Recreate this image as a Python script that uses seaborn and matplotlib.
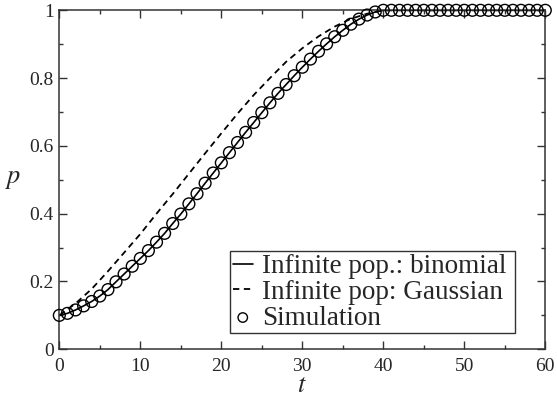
import numpy as np
import pandas as pd
import matplotlib
matplotlib.use("Agg")
import matplotlib.pyplot as plt
import seaborn as sns

# ---- data ----
t_sim = list(range(0, 61))
p_binomial = [0.100, 0.106, 0.116, 0.128, 0.141, 0.157, 0.176, 0.199, 0.222, 0.245,
              0.268, 0.291, 0.316, 0.342, 0.371, 0.399, 0.429, 0.459, 0.490, 0.520,
              0.550, 0.580, 0.610, 0.640, 0.669, 0.698, 0.727, 0.755, 0.781, 0.807,
              0.832, 0.856, 0.879, 0.901, 0.922, 0.941, 0.959, 0.974, 0.986, 0.995,
              1.000] + [1.000] * 20
p_simulation = list(p_binomial)

t_gauss = [0, 2, 4, 6, 8, 10, 12, 14, 16, 18, 20, 22, 24, 26, 28, 30, 32, 34, 36, 38, 40, 60]
p_gauss = [0.100, 0.135, 0.178, 0.230, 0.285, 0.340, 0.400, 0.458, 0.518, 0.578,
           0.637, 0.695, 0.750, 0.800, 0.848, 0.888, 0.923, 0.952, 0.975, 0.990,
           1.000, 1.000]

xticks = [0, 10, 20, 30, 40, 50, 60]
yticks = [0, 0.2, 0.4, 0.6, 0.8, 1.0]
yticklabels = ["0", "0.2", "0.4", "0.6", "0.8", "1"]

sns.set_style("ticks")
plt.rcParams['font.family'] = ['Liberation Serif', 'DejaVu Serif']
plt.rcParams['mathtext.fontset'] = 'stix'

fig = plt.figure(figsize=(5.57, 3.96), dpi=100)
ax = fig.add_axes([0.1065, 0.118, 0.8725, 0.856])

df_bin = pd.DataFrame({"t": t_sim, "p": p_binomial})
df_gau = pd.DataFrame({"t": t_gauss, "p": p_gauss})
df_sim = pd.DataFrame({"t": t_sim, "p": p_simulation})

sns.lineplot(data=df_bin, x="t", y="p", ax=ax, color="black", lw=1.2,
             label="Infinite pop.: binomial")
sns.lineplot(data=df_gau, x="t", y="p", ax=ax, color="black", lw=1.3,
             label="Infinite pop: Gaussian")
ax.lines[-1].set_linestyle((0, (3.5, 2.5)))
sns.scatterplot(data=df_sim, x="t", y="p", ax=ax, marker="o", s=72,
                facecolor="none", edgecolor="black", linewidth=1.0,
                label="Simulation", zorder=3, clip_on=False)

ax.set_xlim(0, 60)
ax.set_ylim(0, 1)
ax.set_xticks(xticks)
ax.set_xticklabels([str(x) for x in xticks])
ax.set_yticks(yticks)
ax.set_yticklabels(yticklabels)
ax.set_xticks([5, 15, 25, 35, 45, 55], minor=True)
ax.set_yticks([0.1, 0.3, 0.5, 0.7, 0.9], minor=True)
ax.tick_params(which="both", direction="in", top=True, right=True,
               color="#333333", width=1.0, labelsize=14)
ax.tick_params(axis="x", which="major", pad=6)
ax.tick_params(axis="y", which="major", pad=4)
ax.tick_params(which="major", length=6)
ax.tick_params(which="minor", length=3)
for s in ax.spines.values():
    s.set_linewidth(1.1)
    s.set_color("#333333")

ax.set_xlabel("$t$", fontsize=19, labelpad=0)
ax.set_ylabel("$p$", fontsize=19, rotation=0, labelpad=12, va="center")

leg = ax.legend(loc="lower left", bbox_to_anchor=(0.351, 0.047, 0.587, 0.261),
                mode="expand", fontsize=19.5, frameon=True, fancybox=False,
                handlelength=0.75, handletextpad=0.35, borderpad=0.1,
                labelspacing=0.03, borderaxespad=0, markerscale=0.8)
leg.get_frame().set_edgecolor("#333333")
leg.get_frame().set_linewidth(1.0)
leg.get_frame().set_alpha(1)

fig.savefig("out.png", dpi=100)
